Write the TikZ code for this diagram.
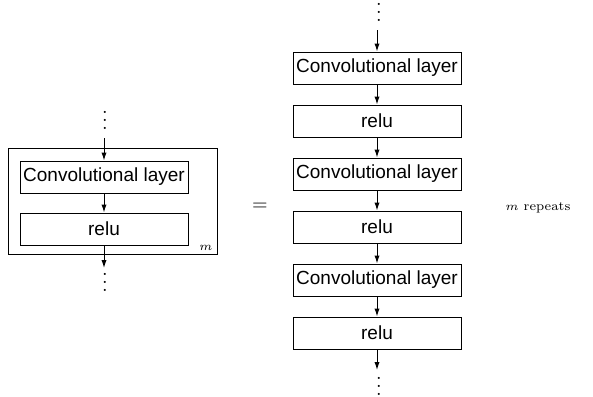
\documentclass[tikz,border=0pt]{standalone}
\usepackage{fontspec}
\setsansfont{Liberation Sans}
\usetikzlibrary{arrows.meta}
\begin{document}
\begin{tikzpicture}[x=0.5pt,y=-0.5pt,
  blk/.style={draw, line width=0.5pt, minimum width=84pt, minimum height=16pt, inner sep=0pt,
    font=\sffamily\fontsize{9.5}{11}\selectfont},
  frame/.style={draw, line width=0.5pt, minimum width=104.5pt, minimum height=53pt, inner sep=0pt},
  arr/.style={-{Latex[length=4pt,width=2.6pt]}, line width=0.5pt},
  dts/.style={inner sep=0pt, anchor=base, text height=9pt, text depth=0pt, font=\fontsize{10}{12}\selectfont},
  lbl/.style={inner sep=0pt, font=\fontsize{6.5}{8}\selectfont}]
\useasboundingbox (0,0) rectangle (593,396);
% left: the repeated block
\node[frame] (outer) at (112.5,201) {};
\node[blk] (lc) at (104,177) {Convolutional layer};
\node[blk] (lr) at (104,229) {relu};
\node[dts] (ld1) at (105,129) {$\vdots$};
\coordinate (la) at (104,138);
\coordinate (lb) at (104,268);
\node[dts] (ld2) at (105,291) {$\vdots$};
\draw[arr] (la) -- (lc);
\draw[arr] (lc) -- (lr);
\draw[arr] (lr) -- (lb);
\node[lbl, anchor=base east] (lm) at (213,250) {$m$};
% equals sign
\node[inner sep=0pt, font=\fontsize{10}{12}\selectfont] (eq) at (260,207) {$=$};
% right: unrolled
\node[dts] (rd1) at (379,21) {$\vdots$};
\coordinate (ra) at (377,30);
\node[blk] (c1) at (377,68) {Convolutional layer};
\node[blk] (r1) at (377,121) {relu};
\node[blk] (c2) at (377,174) {Convolutional layer};
\node[blk] (r2) at (377,227) {relu};
\node[blk] (c3) at (377,280) {Convolutional layer};
\node[blk] (r3) at (377,333) {relu};
\coordinate (rb) at (377,370);
\node[dts] (rd2) at (379,395) {$\vdots$};
\draw[arr] (ra) -- (c1);
\draw[arr] (c1) -- (r1);
\draw[arr] (r1) -- (c2);
\draw[arr] (c2) -- (r2);
\draw[arr] (r2) -- (c3);
\draw[arr] (c3) -- (r3);
\draw[arr] (r3) -- (rb);
\node[lbl] (rep) at (538,208) {$m$ repeats};
\end{tikzpicture}
\end{document}
